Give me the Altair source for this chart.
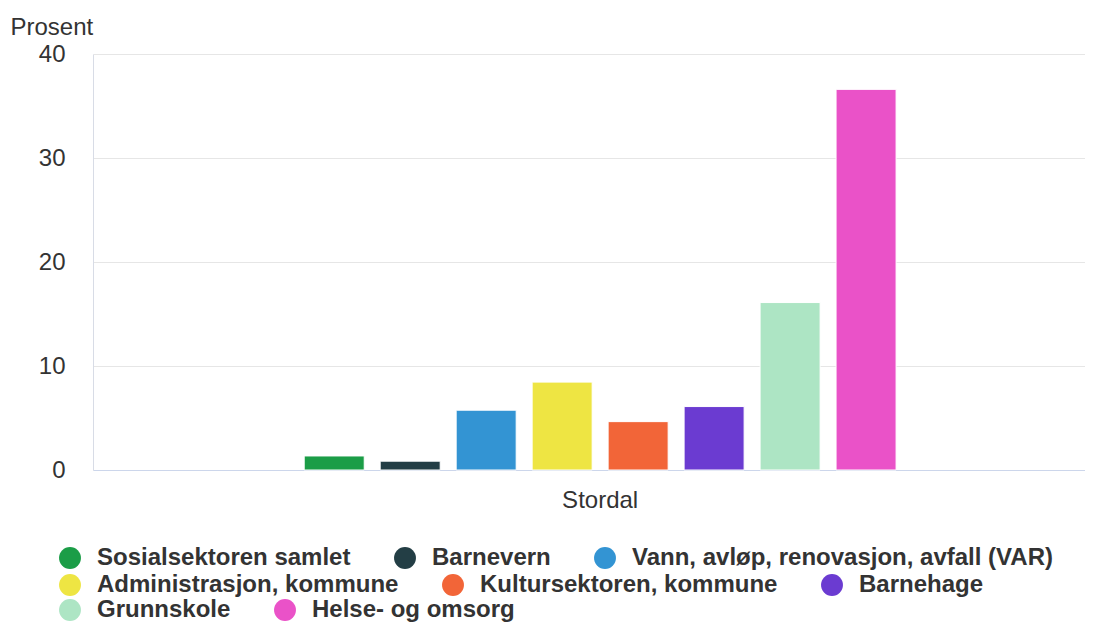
import altair as alt
import pandas as pd

region = "Stordal"
categories = [
    "Sosialsektoren samlet",
    "Barnevern",
    "Vann, avløp, renovasjon, avfall (VAR)",
    "Administrasjon, kommune",
    "Kultursektoren, kommune",
    "Barnehage",
    "Grunnskole",
    "Helse- og omsorg",
]
values = [1.35, 0.85, 5.75, 8.45, 4.65, 6.1, 16.1, 36.6]
colors = ["#1b9d47", "#233e45", "#3394d3", "#eee543", "#f26538", "#6b3bd1", "#ade5c4", "#ea52c8"]
y_ticks = [0, 10, 20, 30, 40]

# legend rows as they wrap in the reference
legend_rows = [categories[0:3], categories[3:6], categories[6:8]]
legend_row_y = [492, 519, 544]

df = pd.DataFrame({"Region": [region] * len(categories), "Sektor": categories, "Prosent": values})
color_of = dict(zip(categories, colors))

base = alt.Chart(df).mark_bar(stroke="white", strokeWidth=1).encode(
    x=alt.X("Region:N", title=None,
            scale=alt.Scale(paddingInner=0, paddingOuter=0.316, align=0.529),
            axis=alt.Axis(labelAngle=0, labelFontSize=24, labelColor="#333333", labelFont="Arial",
                          ticks=False, domainColor="#ccd6eb", labelPadding=18, grid=False)),
    xOffset=alt.XOffset("Sektor:N", sort=categories,
                        scale=alt.Scale(domain=categories, paddingInner=0.21, paddingOuter=0.105)),
    y=alt.Y("Prosent:Q", title="Prosent",
            scale=alt.Scale(domain=[0, 40], nice=False),
            axis=alt.Axis(values=y_ticks, labelFontSize=24, labelColor="#333333", labelFont="Arial",
                          ticks=False, labelPadding=28, domainColor="#d8dce6",
                          gridColor="#e6e6e6", titleAngle=0, titleAlign="left",
                          titleBaseline="middle", titleX=-83, titleY=-27,
                          titleFontSize=24, titleFontWeight="normal", titleColor="#333333",
                          titleFont="Arial")),
)

layers = []
for row, ly in zip(legend_rows, legend_row_y):
    layers.append(
        base.transform_filter(alt.FieldOneOfPredicate(field="Sektor", oneOf=row)).encode(
            color=alt.Color("Sektor:N", sort=row,
                            scale=alt.Scale(domain=row, range=[color_of[c] for c in row]),
                            legend=alt.Legend(title=None, orient="none", legendX=-35, legendY=ly,
                                              direction="horizontal", columns=len(row),
                                              symbolType="circle", symbolSize=480,
                                              symbolStrokeWidth=0,
                                              labelFontSize=24, labelFontWeight="bold",
                                              labelFont="Arial", labelColor="#333333",
                                              labelLimit=700, labelOffset=15,
                                              columnPadding=42))
        )
    )

chart = alt.layer(*layers).resolve_scale(color="independent").resolve_legend(
    color="independent"
).properties(
    width=992, height=416,
    autosize=alt.AutoSizeParams(type="none"),
    padding={"left": 85, "top": 46, "right": 0, "bottom": 153},
).configure_view(stroke=None)

chart.save("out.html", embed_options={"renderer": "svg", "actions": False})
